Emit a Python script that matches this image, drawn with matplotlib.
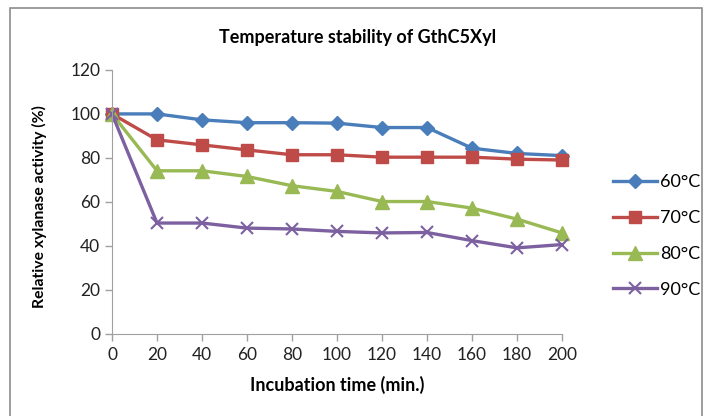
import matplotlib.pyplot as plt
from matplotlib.patches import Rectangle

plt.rcParams['font.family'] = ['Lato', 'DejaVu Sans']

# data
time_min = [0, 20, 40, 60, 80, 100, 120, 140, 160, 180, 200]
act_60 = [100, 100, 97.3, 96, 96, 95.8, 93.8, 93.8, 84.4, 82, 81]
act_70 = [100, 88.2, 85.9, 83.6, 81.4, 81.4, 80.3, 80.3, 80.3, 79.4, 79]
act_80 = [100, 74.1, 74.1, 71.5, 67.3, 64.7, 60.1, 60.1, 57.1, 52.1, 45.8]
act_90 = [100, 50.3, 50.3, 48, 47.6, 46.5, 45.8, 46, 42.3, 39, 40.5]
labels = ['60°C', '70°C', '80°C', '90°C']

fig = plt.figure(figsize=(7.11, 4.16), dpi=100)
ax = fig.add_axes([112/711, 1-333.5/416, 450/711, 263.5/416])

# chart border
fig.patches.append(Rectangle((10/711, -0.1), 692/711, 1.1 - 8/416, transform=fig.transFigure,
                             fill=False, edgecolor='#8c8c8c', lw=1.2))

styles = [('#4A7EBB', 'D', 7.5), ('#BE4B48', 's', 9), ('#98B954', '^', 9.5), ('#7D60A0', 'x', 9)]
for ys, lab, (c, m, ms) in zip([act_60, act_70, act_80, act_90], labels, styles):
    ax.plot(time_min, ys, color=c, lw=2.4, marker=m, markersize=ms, markeredgewidth=1.5 if m == 'x' else 1,
            markerfacecolor=c, markeredgecolor=c, label=lab, clip_on=False)

ax.set_xlim(0, 200)
ax.set_ylim(0, 120)
ax.set_xticks(range(0, 201, 20))
ax.set_yticks(range(0, 121, 20))
for s in ['top', 'right']:
    ax.spines[s].set_visible(False)
for s in ['left', 'bottom']:
    ax.spines[s].set_color('#a0a0a0')
ax.tick_params(colors='#a0a0a0', labelcolor='#222222', labelsize=12.5, length=5, width=1)
ax.tick_params(axis='x', pad=5)

ax.set_xlabel('Incubation time (min.)', fontsize=13, fontweight='bold', labelpad=9)
ax.set_ylabel('Relative xylanase activity (%)', fontsize=11.3, fontweight='bold', labelpad=7)
ax.yaxis.set_label_coords(-0.145, 0.48)
fig.text(358/711, 1-37/416, 'Temperature stability of GthC5Xyl', ha='center', va='center',
         fontsize=13, fontweight='bold')

ax.legend(loc='center left', bbox_to_anchor=(597/711, 1-236/416), bbox_transform=fig.transFigure,
          frameon=False, fontsize=13, handlelength=2.4, labelspacing=1.1, handletextpad=0.2)

fig.savefig('out.png', dpi=100)
